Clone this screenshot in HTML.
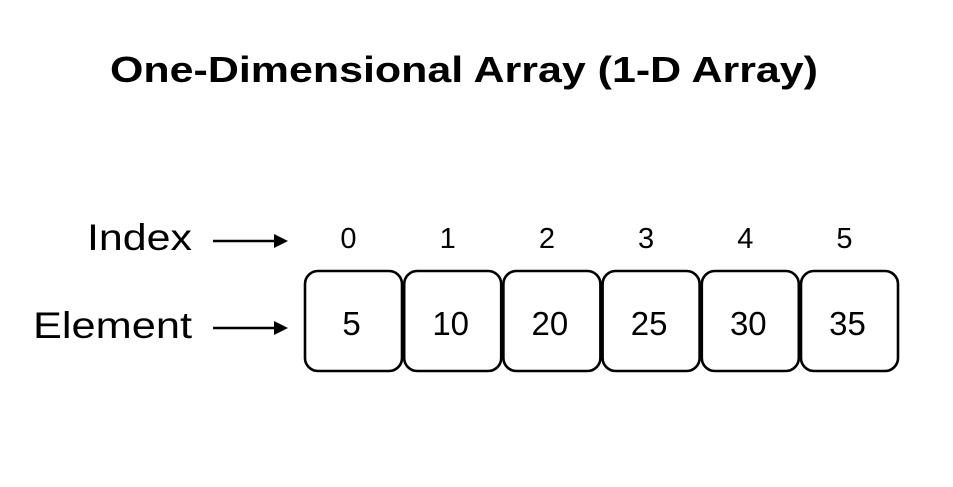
<!DOCTYPE html>
<html><head><meta charset="utf-8"><style>
html,body{margin:0;padding:0;background:#fff;}
svg{display:block;font-family:"Liberation Sans",sans-serif;}
</style></head><body>
<svg id="chart" width="953" height="487" viewBox="0 0 953 487">
<rect width="953" height="487" fill="#fff"/>
<text x="110" y="82" font-size="36" font-weight="bold" textLength="708" lengthAdjust="spacingAndGlyphs">One-Dimensional Array (1-D Array)</text>
<text x="87" y="250" font-size="37" textLength="105" lengthAdjust="spacingAndGlyphs">Index</text>
<text x="33" y="338" font-size="37" textLength="159" lengthAdjust="spacingAndGlyphs">Element</text>
<g stroke="#000" stroke-width="2.5"><line x1="213" y1="241" x2="280" y2="241"/><path d="M274,234 L288,241 L274,248 Z" fill="#000" stroke="none"/></g>
<g stroke="#000" stroke-width="2.5"><line x1="213" y1="328" x2="280" y2="328"/><path d="M274,321 L288,328 L274,335 Z" fill="#000" stroke="none"/></g>
<g id="cells"></g>
</svg>
<script>
const indices = ["0","1","2","3","4","5"];
const values = [5, 10, 20, 25, 30, 35];
const cellsGroup = document.getElementById('cells');
const svgNs = 'http://www.w3.org/2000/svg';
const cellX0 = 305, cellPitch = 99.2, cellW = 97, cellTop = 271, cellH = 100;
function cellX(i){ return cellX0 + i*cellPitch; }
indices.forEach((lab,i)=>{
  const r = document.createElementNS(svgNs,'rect');
  
  
  r.setAttribute('x', cellX(i)); r.setAttribute('y', cellTop);
  r.setAttribute('width', cellW); r.setAttribute('height', cellH);
  r.setAttribute('rx', 13); r.setAttribute('fill','#fff');
  r.setAttribute('stroke','#000'); r.setAttribute('stroke-width','2.6');
  cellsGroup.appendChild(r);
  const t = document.createElementNS(svgNs,'text');
  
  
  t.setAttribute('x', cellX(i)+cellW/2-5); t.setAttribute('y', 248);
  t.setAttribute('font-size','29'); t.setAttribute('text-anchor','middle');
  t.textContent = lab; cellsGroup.appendChild(t);
  const v = document.createElementNS(svgNs,'text');
  
  
  v.setAttribute('x', cellX(i)+cellW/2-2); v.setAttribute('y', 335);
  v.setAttribute('font-size','33'); v.setAttribute('text-anchor','middle');
  v.textContent = values[i]; cellsGroup.appendChild(v);
});
</script>
</body></html>
